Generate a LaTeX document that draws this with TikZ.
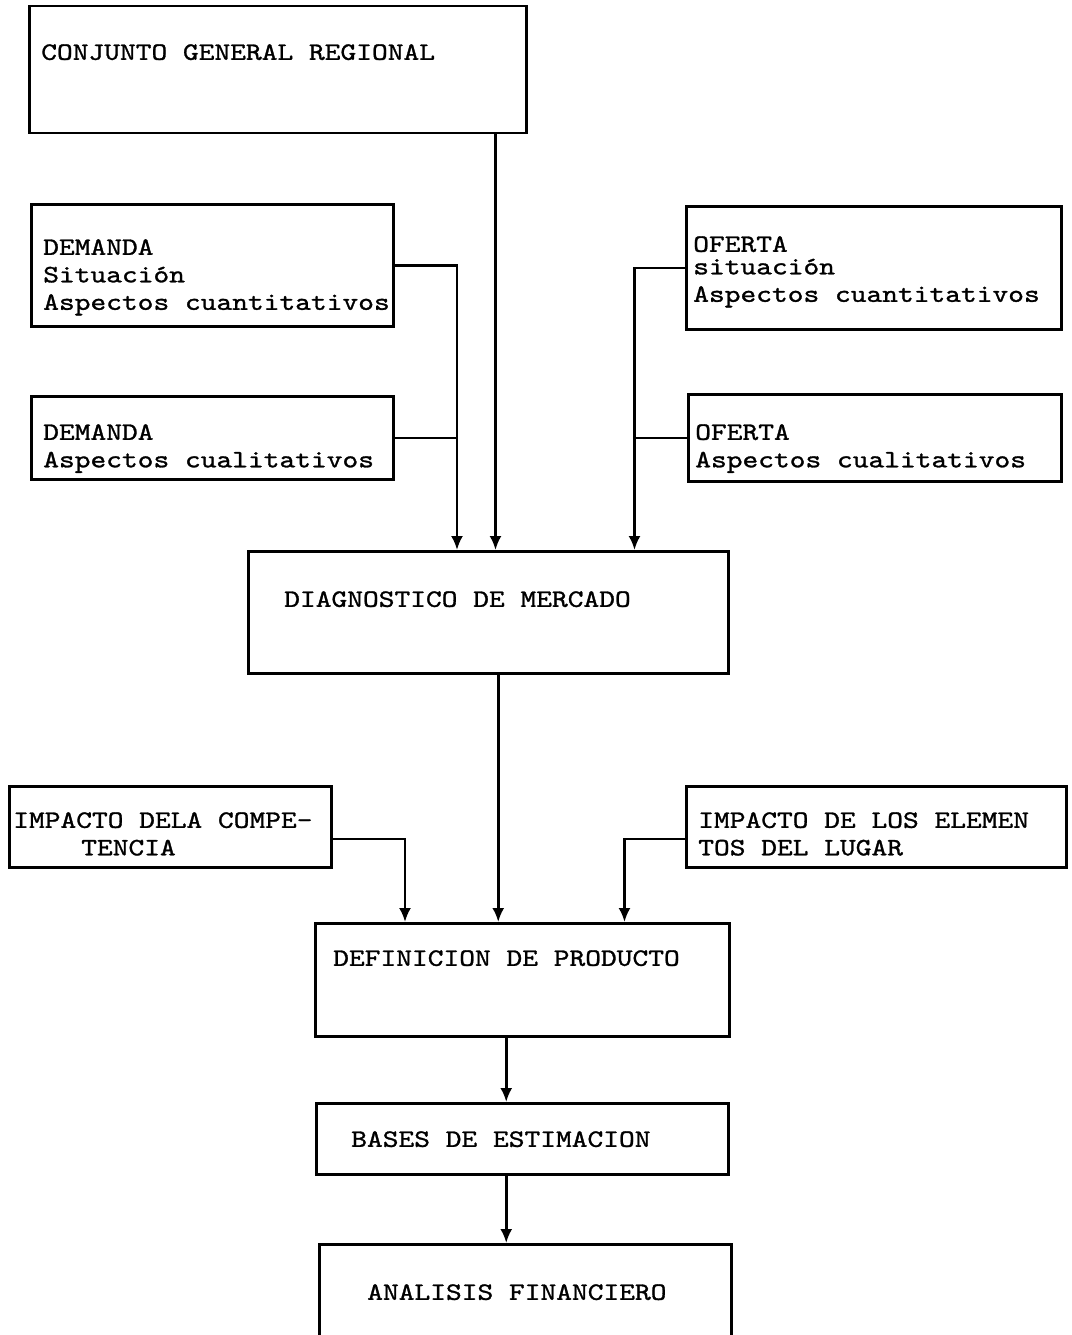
\documentclass[tikz,border=0pt]{standalone}
\usepackage{fontspec}
\usetikzlibrary{arrows.meta}
\newfontfamily\maquina[FakeStretch=1.2, FakeBold=1.2]{lmmono10-regular.otf}
\begin{document}
\begin{tikzpicture}[>={Latex[length=14pt,width=12pt]}, x=1pt, y=-1pt, line width=2.5pt,
    caja/.style={draw, inner sep=0pt, anchor=north west},
    texto/.style={anchor=north west, inner sep=0pt, align=left,
        font=\maquina\fontsize{25}{27.5}\selectfont}]
    \clip (0,0) rectangle (1071,1335);

    % cajas
    \node[caja, minimum width=497pt, minimum height=127pt] (conjunto) at (28,5) {};
    \node[caja, minimum width=362pt, minimum height=122pt] (demcuant) at (30,203) {};
    \node[caja, minimum width=362pt, minimum height=83pt] (demcual) at (30,395) {};
    \node[caja, minimum width=375pt, minimum height=123pt] (ofcuant) at (685,205) {};
    \node[caja, minimum width=373pt, minimum height=87pt] (ofcual) at (687,393) {};
    \node[caja, minimum width=480pt, minimum height=122pt] (diagnostico) at (247,550) {};
    \node[caja, minimum width=322pt, minimum height=81pt] (competencia) at (8,785) {};
    \node[caja, minimum width=380pt, minimum height=81pt] (lugar) at (685,785) {};
    \node[caja, minimum width=414pt, minimum height=113pt] (producto) at (314,922) {};
    \node[caja, minimum width=412pt, minimum height=71pt] (bases) at (315,1102) {};
    \node[caja, minimum width=412pt, minimum height=130pt] (financiero) at (318,1243) {};

    % textos
    \node[texto] (tconjunto) at (40,43) {CONJUNTO GENERAL REGIONAL};
    \node[texto] (tdemcuant) at (42,238) {DEMANDA\\Situación\\Aspectos cuantitativos};
    \node[texto] (tdemcual) at (42,423) {DEMANDA\\Aspectos cualitativos};
    \node[texto] (tofcuant) at (692,235) {OFERTA\\[-5pt]situación\\[0pt]Aspectos cuantitativos};
    \node[texto] (tofcual) at (694,423) {OFERTA\\Aspectos cualitativos};
    \node[texto] (tdiagnostico) at (283,590) {DIAGNOSTICO DE MERCADO};
    \node[texto] (tcompetencia) at (12,811) {IMPACTO DELA COMPE-\\\hspace*{68pt}TENCIA};
    \node[texto] (tlugar) at (697,811) {IMPACTO DE LOS ELEMEN\\TOS DEL LUGAR};
    \node[texto] (tproducto) at (332,949) {DEFINICION DE PRODUCTO};
    \node[texto] (tbases) at (350,1130) {BASES DE ESTIMACION};
    \node[texto] (tfinanciero) at (366,1283) {ANALISIS FINANCIERO};

    % puntos de bajada
    \coordinate (bconjunto) at ([xshift=-32pt]conjunto.south east);
    \coordinate (bdemanda) at ([xshift=210pt]diagnostico.north west);
    \coordinate (boferta) at ([xshift=-95pt]diagnostico.north east);
    \coordinate (bdiagnostico) at ([xshift=10pt]diagnostico.south);
    \coordinate (bcompetencia) at ([xshift=91pt]producto.north west);
    \coordinate (blugar) at ([xshift=-106pt]producto.north east);
    \coordinate (bproducto) at ([xshift=-16pt]producto.south);
    \coordinate (bbases) at ([xshift=-16pt]bases.south);

    % conexiones
    \draw[->] (bconjunto) -- (bconjunto |- diagnostico.north);
    \draw[->] (demcuant.east) -| (bdemanda);
    \draw (demcual.east) -- (demcual.east -| bdemanda);
    \draw[->] (ofcuant.west) -| (boferta);
    \draw (ofcual.west) -- (ofcual.west -| boferta);
    \draw[->] (bdiagnostico) -- (bdiagnostico |- producto.north);
    \draw[->] ([yshift=-12pt]competencia.east) -| (bcompetencia);
    \draw[->] ([yshift=-12pt]lugar.west) -| (blugar);
    \draw[->] (bproducto) -- (bproducto |- bases.north);
    \draw[->] (bbases) -- (bbases |- financiero.north);
\end{tikzpicture}
\end{document}
